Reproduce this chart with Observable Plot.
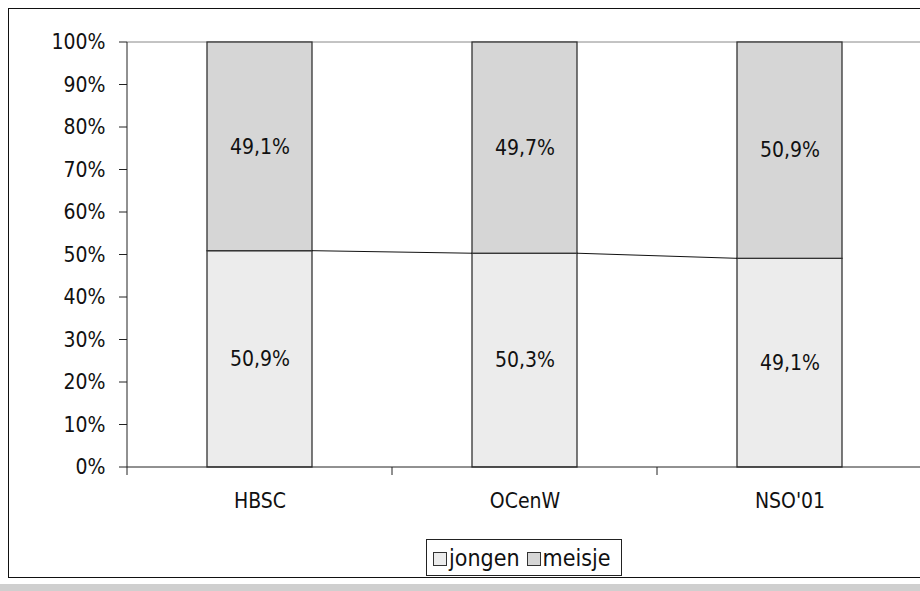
<!DOCTYPE html>
<html>
<head>
<meta charset="utf-8">
<script src="https://cdn.jsdelivr.net/npm/d3@7"></script>
<script src="https://cdn.jsdelivr.net/npm/@observablehq/plot@0.6"></script>
<style>
  html, body { margin: 0; padding: 0; background: #fff; }
  #wrap { position: relative; width: 920px; height: 591px; overflow: hidden;
    font-family: "DejaVu Sans Condensed", "DejaVu Sans", sans-serif; font-stretch: condensed; }
  #frame { position: absolute; left: 8px; top: 8px; width: 920px; height: 570px;
    border: 1.5px solid #111; box-sizing: border-box; pointer-events: none; }
  #band { position: absolute; left: 0; top: 584px; width: 920px; height: 7px; background: #cfcfcf; }
  #legend { position: absolute; left: 426px; top: 539px; width: 196px; height: 37px;
    border: 1px solid #222; box-sizing: border-box; display: flex; align-items: center;
    padding-left: 6px; font-size: 23px; color: #111; background: #fff; white-space: nowrap; }
  .sw { display: inline-block; width: 12px; height: 12px; border: 1px solid #333; margin-right: 2px; margin-top: 2px; }
  .item { display: flex; align-items: center; margin-right: 7px; }
  svg { position: absolute; left: 0; top: 0; }
</style>
</head>
<body>
<div id="wrap">
  <div id="band"></div>
  <div id="chart"></div>
  <div id="frame"></div>
  <div id="legend"></div>
</div>
<script>
const categories = ["HBSC", "OCenW", "NSO'01"];
const jongen = [50.9, 50.3, 49.1];
const meisje = [49.1, 49.7, 50.9];
const series = ["jongen", "meisje"];
const seriesColors = ["#ececec", "#d6d6d6"];
const yTicks = [0, 10, 20, 30, 40, 50, 60, 70, 80, 90, 100];

const data = categories.flatMap((c, i) => [
  {cat: c, sex: "jongen", value: jongen[i]},
  {cat: c, sex: "meisje", value: meisje[i]}
]);

const fmt = v => v.toFixed(1).replace(".", ",") + "%";
const FONT = "DejaVu Sans Condensed, DejaVu Sans, sans-serif";
const PAD_INNER = 0.604;

function geometry(x) {
  const step = x(categories[1]) - x(categories[0]);
  let bw = typeof x.bandwidth === "function" ? x.bandwidth() : x.bandwidth;
  if (!(bw > 0)) bw = step * (1 - PAD_INNER);
  const gap = step - bw;
  const left = x(categories[0]) - gap / 2;
  const right = x(categories[categories.length - 1]) + bw + gap / 2;
  return {step, bw, left, right};
}

function decorations(index, scales) {
  const x = scales.x, y = scales.y;
  const {step, bw, left, right} = geometry(x);
  const g = d3.create("svg:g").attr("fill", "none").attr("stroke", "#222").attr("stroke-width", 1);
  g.append("line").attr("x1", left).attr("x2", left).attr("y1", y(0)).attr("y2", y(100));
  for (const t of yTicks) {
    g.append("line").attr("x1", left - 8).attr("x2", left).attr("y1", y(t)).attr("y2", y(t));
  }
  g.append("line").attr("x1", left).attr("x2", right).attr("y1", y(0)).attr("y2", y(0));
  for (let i = 0; i <= categories.length; i++) {
    const bx = left + i * step;
    g.append("line").attr("x1", bx).attr("x2", bx).attr("y1", y(0)).attr("y2", y(0) + 8);
  }
  for (let i = 0; i < categories.length - 1; i++) {
    g.append("line")
      .attr("x1", x(categories[i]) + bw).attr("y1", y(jongen[i]))
      .attr("x2", x(categories[i + 1])).attr("y2", y(jongen[i + 1]))
      .attr("stroke", "#111");
  }
  return g.node();
}

function topGrid(index, scales) {
  const x = scales.x, y = scales.y;
  const {left, right} = geometry(x);
  const g = d3.create("svg:g");
  g.append("line").attr("x1", left).attr("x2", right).attr("y1", y(100)).attr("y2", y(100))
    .attr("stroke", "#888").attr("stroke-width", 1);
  return g.node();
}

const chart = Plot.plot({
  width: 920,
  height: 591,
  marginLeft: 126,
  marginTop: 42,
  marginBottom: 124,
  marginRight: 0,
  style: {fontFamily: FONT, fontSize: "21px", color: "#111", background: "transparent", overflow: "visible"},
  x: {domain: categories, range: [126, 922], paddingInner: PAD_INNER, paddingOuter: PAD_INNER / 2, axis: null},
  y: {domain: [0, 100], axis: null},
  color: {domain: series, range: seriesColors},
  marks: [
    topGrid,
    Plot.barY(data, {x: "cat", y: "value", fill: "sex", stroke: "#333", strokeWidth: 1.3, order: series}),
    decorations,
    Plot.text(data, Plot.stackY({x: "cat", y: "value", z: "sex", order: series, text: d => fmt(d.value),
      fill: "#111", fontSize: 21})),
    Plot.text(yTicks, {y: d => d, frameAnchor: "left", dx: -21, textAnchor: "end", text: d => d + "%",
      fill: "#111", fontSize: 21}),
    Plot.text(categories, {x: d => d, frameAnchor: "bottom", dy: 40, text: d => d, fill: "#111", fontSize: 21})
  ]
});
document.getElementById("chart").appendChild(chart);

const legend = document.getElementById("legend");
series.forEach((s, i) => {
  const item = document.createElement("span");
  item.className = "item";
  const sw = document.createElement("span");
  sw.className = "sw";
  sw.style.background = seriesColors[i];
  item.appendChild(sw);
  item.appendChild(document.createTextNode(s));
  legend.appendChild(item);
});
</script>
</body>
</html>
